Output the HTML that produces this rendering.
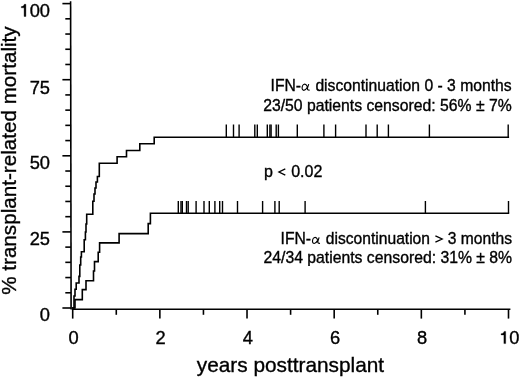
<!DOCTYPE html>
<html><head><meta charset="utf-8"><style>
html,body{margin:0;padding:0;background:#fff;}
body{width:520px;height:377px;overflow:hidden;font-family:"Liberation Sans",sans-serif;}
svg{display:block;}
</style></head><body>
<svg width="520" height="377" viewBox="0 0 520 377">
<rect width="520" height="377" fill="#fff"/>
<line x1="70.6" y1="1.3" x2="71.1" y2="309.6" stroke="#000" stroke-width="1.6"/>
<line x1="62.4" y1="308.00" x2="71" y2="308.00" stroke="#000" stroke-width="1.6"/>
<line x1="65.3" y1="292.78" x2="71" y2="292.78" stroke="#000" stroke-width="1.6"/>
<line x1="65.3" y1="277.56" x2="71" y2="277.56" stroke="#000" stroke-width="1.6"/>
<line x1="65.3" y1="262.34" x2="71" y2="262.34" stroke="#000" stroke-width="1.6"/>
<line x1="65.3" y1="247.12" x2="71" y2="247.12" stroke="#000" stroke-width="1.6"/>
<line x1="62.4" y1="231.90" x2="71" y2="231.90" stroke="#000" stroke-width="1.6"/>
<line x1="65.3" y1="216.68" x2="71" y2="216.68" stroke="#000" stroke-width="1.6"/>
<line x1="65.3" y1="201.46" x2="71" y2="201.46" stroke="#000" stroke-width="1.6"/>
<line x1="65.3" y1="186.24" x2="71" y2="186.24" stroke="#000" stroke-width="1.6"/>
<line x1="65.3" y1="171.02" x2="71" y2="171.02" stroke="#000" stroke-width="1.6"/>
<line x1="62.4" y1="155.80" x2="71" y2="155.80" stroke="#000" stroke-width="1.6"/>
<line x1="65.3" y1="140.58" x2="71" y2="140.58" stroke="#000" stroke-width="1.6"/>
<line x1="65.3" y1="125.36" x2="71" y2="125.36" stroke="#000" stroke-width="1.6"/>
<line x1="65.3" y1="110.14" x2="71" y2="110.14" stroke="#000" stroke-width="1.6"/>
<line x1="65.3" y1="94.92" x2="71" y2="94.92" stroke="#000" stroke-width="1.6"/>
<line x1="62.4" y1="79.70" x2="71" y2="79.70" stroke="#000" stroke-width="1.6"/>
<line x1="65.3" y1="64.48" x2="71" y2="64.48" stroke="#000" stroke-width="1.6"/>
<line x1="65.3" y1="49.26" x2="71" y2="49.26" stroke="#000" stroke-width="1.6"/>
<line x1="65.3" y1="34.04" x2="71" y2="34.04" stroke="#000" stroke-width="1.6"/>
<line x1="65.3" y1="18.82" x2="71" y2="18.82" stroke="#000" stroke-width="1.6"/>
<line x1="62.4" y1="3.60" x2="71" y2="3.60" stroke="#000" stroke-width="1.6"/>
<line x1="71.9" y1="309.2" x2="510.4" y2="309.2" stroke="#000" stroke-width="1.6"/>
<line x1="72.70" y1="309" x2="72.70" y2="318.6" stroke="#000" stroke-width="1.6"/>
<line x1="116.28" y1="309" x2="116.28" y2="314.8" stroke="#000" stroke-width="1.6"/>
<line x1="159.86" y1="309" x2="159.86" y2="318.6" stroke="#000" stroke-width="1.6"/>
<line x1="203.44" y1="309" x2="203.44" y2="314.8" stroke="#000" stroke-width="1.6"/>
<line x1="247.02" y1="309" x2="247.02" y2="318.6" stroke="#000" stroke-width="1.6"/>
<line x1="290.60" y1="309" x2="290.60" y2="314.8" stroke="#000" stroke-width="1.6"/>
<line x1="334.18" y1="309" x2="334.18" y2="318.6" stroke="#000" stroke-width="1.6"/>
<line x1="377.76" y1="309" x2="377.76" y2="314.8" stroke="#000" stroke-width="1.6"/>
<line x1="421.34" y1="309" x2="421.34" y2="318.6" stroke="#000" stroke-width="1.6"/>
<line x1="464.92" y1="309" x2="464.92" y2="314.8" stroke="#000" stroke-width="1.6"/>
<line x1="508.50" y1="309" x2="508.50" y2="318.6" stroke="#000" stroke-width="1.6"/>
<path d="M72.7,308 H74 V296 H75 V289.3 H76.2 V283 H79 V276.4 H79.8 V265 H80.7 V257 H81.4 V251.8 H84.2 V239.7 H85.4 V232 H86 V224 H86.7 V214.3 H92.8 V201.3 H94 V194 H95 V188 H96 V182 H97.4 V176.5 H99.3 V163.2 H117.1 V156.8 H126.5 V150.5 H139.8 V143.8 H154.2 V137.3 H508.3" fill="none" stroke="#000" stroke-width="1.6" stroke-linejoin="miter" stroke-linecap="square"/>
<path d="M72.7,308 H75 V299.6 H82.3 V289.6 H86 V280.7 H93.5 V271 H94.5 V261.6 H98.2 V252.3 H99.6 V242.9 H119.1 V233.6 H148.2 V223.6 H150.4 V213.3 H508.4" fill="none" stroke="#000" stroke-width="1.6" stroke-linejoin="miter" stroke-linecap="square"/>
<line x1="226.3" y1="124.5" x2="226.3" y2="137.3" stroke="#000" stroke-width="1.4"/>
<line x1="233.5" y1="124.5" x2="233.5" y2="137.3" stroke="#000" stroke-width="1.4"/>
<line x1="239.1" y1="124.5" x2="239.1" y2="137.3" stroke="#000" stroke-width="1.4"/>
<line x1="254.8" y1="124.5" x2="254.8" y2="137.3" stroke="#000" stroke-width="1.4"/>
<line x1="257.3" y1="124.5" x2="257.3" y2="137.3" stroke="#000" stroke-width="1.4"/>
<line x1="267.3" y1="124.5" x2="267.3" y2="137.3" stroke="#000" stroke-width="1.4"/>
<line x1="269.9" y1="124.5" x2="269.9" y2="137.3" stroke="#000" stroke-width="1.4"/>
<line x1="271.1" y1="124.5" x2="271.1" y2="137.3" stroke="#000" stroke-width="1.4"/>
<line x1="276.2" y1="124.5" x2="276.2" y2="137.3" stroke="#000" stroke-width="1.4"/>
<line x1="278.4" y1="124.5" x2="278.4" y2="137.3" stroke="#000" stroke-width="1.4"/>
<line x1="297.3" y1="124.5" x2="297.3" y2="137.3" stroke="#000" stroke-width="1.4"/>
<line x1="323.9" y1="124.5" x2="323.9" y2="137.3" stroke="#000" stroke-width="1.4"/>
<line x1="335.6" y1="124.5" x2="335.6" y2="137.3" stroke="#000" stroke-width="1.4"/>
<line x1="366" y1="124.5" x2="366" y2="137.3" stroke="#000" stroke-width="1.4"/>
<line x1="377.2" y1="124.5" x2="377.2" y2="137.3" stroke="#000" stroke-width="1.4"/>
<line x1="388.4" y1="124.5" x2="388.4" y2="137.3" stroke="#000" stroke-width="1.4"/>
<line x1="429.4" y1="124.5" x2="429.4" y2="137.3" stroke="#000" stroke-width="1.4"/>
<line x1="508.2" y1="124.5" x2="508.2" y2="137.3" stroke="#000" stroke-width="1.4"/>
<line x1="178.3" y1="201" x2="178.3" y2="213.3" stroke="#000" stroke-width="1.4"/>
<line x1="181" y1="201" x2="181" y2="213.3" stroke="#000" stroke-width="1.4"/>
<line x1="182.3" y1="201" x2="182.3" y2="213.3" stroke="#000" stroke-width="1.4"/>
<line x1="186.5" y1="201" x2="186.5" y2="213.3" stroke="#000" stroke-width="1.4"/>
<line x1="188.2" y1="201" x2="188.2" y2="213.3" stroke="#000" stroke-width="1.4"/>
<line x1="196.1" y1="201" x2="196.1" y2="213.3" stroke="#000" stroke-width="1.4"/>
<line x1="204" y1="201" x2="204" y2="213.3" stroke="#000" stroke-width="1.4"/>
<line x1="209.3" y1="201" x2="209.3" y2="213.3" stroke="#000" stroke-width="1.4"/>
<line x1="214.9" y1="201" x2="214.9" y2="213.3" stroke="#000" stroke-width="1.4"/>
<line x1="219.7" y1="201" x2="219.7" y2="213.3" stroke="#000" stroke-width="1.4"/>
<line x1="222.5" y1="201" x2="222.5" y2="213.3" stroke="#000" stroke-width="1.4"/>
<line x1="237.5" y1="201" x2="237.5" y2="213.3" stroke="#000" stroke-width="1.4"/>
<line x1="262.6" y1="201" x2="262.6" y2="213.3" stroke="#000" stroke-width="1.4"/>
<line x1="274.9" y1="201" x2="274.9" y2="213.3" stroke="#000" stroke-width="1.4"/>
<line x1="279.2" y1="201" x2="279.2" y2="213.3" stroke="#000" stroke-width="1.4"/>
<line x1="305.1" y1="201" x2="305.1" y2="213.3" stroke="#000" stroke-width="1.4"/>
<line x1="425.4" y1="201" x2="425.4" y2="213.3" stroke="#000" stroke-width="1.4"/>
<line x1="508.5" y1="201" x2="508.5" y2="213.3" stroke="#000" stroke-width="1.4"/>
<path transform="translate(301.3,90.9)" d="M5.9,-4.3 C5.3,-5.9 4.5,-6.8 3.5,-6.8 C1.9,-6.8 0.8,-4.6 0.8,-2.8 C0.8,-1.4 1.5,-0.6 2.5,-0.6 C3.9,-0.6 5.1,-2.1 6,-3.7 M7.4,-6.8 C6.9,-5.1 6.3,-3.3 6.1,-2.3 C6,-1.2 6.7,-0.6 8.3,-0.8" fill="none" stroke="#000" stroke-width="1.15"/>
<path d="M285.3,168.8 L278.9,172.0 L285.3,175.2" fill="none" stroke="#000" stroke-width="1.3" stroke-miterlimit="10"/>
<path d="M435.4,235.8 L442.2,239.0 L435.4,242.2" fill="none" stroke="#000" stroke-width="1.3" stroke-miterlimit="10"/>
<path transform="translate(311.7,244.1)" d="M5.9,-4.3 C5.3,-5.9 4.5,-6.8 3.5,-6.8 C1.9,-6.8 0.8,-4.6 0.8,-2.8 C0.8,-1.4 1.5,-0.6 2.5,-0.6 C3.9,-0.6 5.1,-2.1 6,-3.7 M7.4,-6.8 C6.9,-5.1 6.3,-3.3 6.1,-2.3 C6,-1.2 6.7,-0.6 8.3,-0.8" fill="none" stroke="#000" stroke-width="1.15"/>
<g font-family="Liberation Sans, sans-serif" fill="#000" style="will-change:transform" stroke="#000" stroke-width="0.35">
<text transform="translate(50.00,17.00) scale(1.04,1)" text-anchor="end" font-size="17.6">00</text>
<text transform="translate(50.00,94.00) scale(1.04,1)" text-anchor="end" font-size="17.6">75</text>
<text transform="translate(50.00,169.00) scale(1.04,1)" text-anchor="end" font-size="17.6">50</text>
<text transform="translate(50.00,245.00) scale(1.04,1)" text-anchor="end" font-size="17.6">25</text>
<text transform="translate(50.00,321.00) scale(1.04,1)" text-anchor="end" font-size="17.6">0</text>
<path d="M25.90,4.30 V16.50 H24.10 V7.80 H21.30 V6.60 C22.80,6.60 23.90,5.60 24.30,4.30 Z"/>
<text transform="translate(73.50,344.00) scale(1.04,1)" text-anchor="middle" font-size="17.6">0</text>
<text transform="translate(160.66,344.00) scale(1.04,1)" text-anchor="middle" font-size="17.6">2</text>
<text transform="translate(247.82,344.00) scale(1.04,1)" text-anchor="middle" font-size="17.6">4</text>
<text transform="translate(334.98,344.00) scale(1.04,1)" text-anchor="middle" font-size="17.6">6</text>
<text transform="translate(422.14,344.00) scale(1.04,1)" text-anchor="middle" font-size="17.6">8</text>
<text transform="translate(509.30,344.00) scale(1.04,1)" text-anchor="start" font-size="17.6">0</text>
<path d="M505.70,331.40 V343.60 H503.90 V334.90 H501.10 V333.70 C502.60,333.70 503.70,332.70 504.10,331.40 Z"/>
<text x="196.8" y="371.8" font-size="20.8">years posttransplant</text>
<text transform="translate(15.9,293.8) rotate(-90)" x="-1" y="0" font-size="20.65">% transplant-related mortality</text>
<text x="270.6" y="90.6" font-size="15.7">IFN-</text>
<text x="511.6" y="90.6" text-anchor="end" font-size="15.7">discontinuation 0 - 3 months</text>
<text x="511.7" y="110.7" text-anchor="end" font-size="15.75">23/50 patients censored: 56% ± 7%</text>
<text x="264" y="177.0" font-size="16">p <tspan fill="none" stroke="none">&lt;</tspan> 0.02</text>
<text x="280.6" y="243.9" font-size="15.7">IFN-</text>
<text x="512.0" y="243.9" text-anchor="end" font-size="15.62">discontinuation <tspan fill="none" stroke="none">&gt;</tspan> 3 months</text>
<text x="512.1" y="262.5" text-anchor="end" font-size="15.75">24/34 patients censored: 31% ± 8%</text>
</g>
</svg>
</body></html>
